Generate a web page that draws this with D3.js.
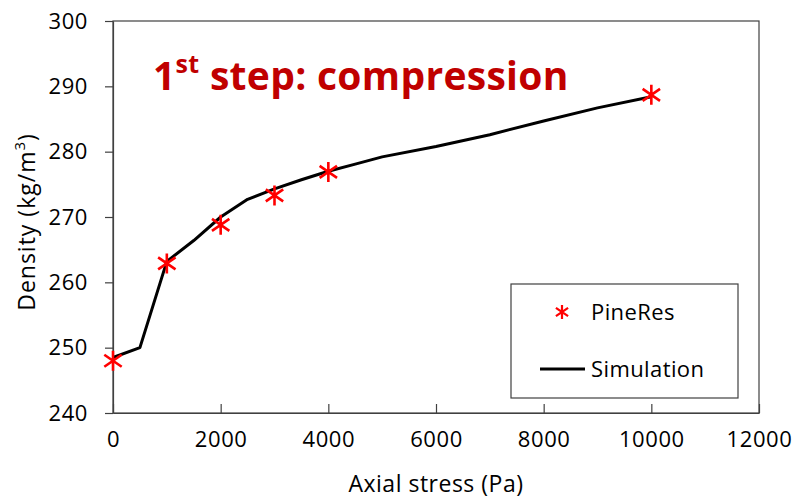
<!DOCTYPE html>
<html>
<head>
<meta charset="utf-8">
<script src="https://cdn.jsdelivr.net/npm/d3@7"></script>
<style>
  body { margin: 0; background: #fff; }
  svg { display: block; font-family: "Open Sans", sans-serif; }
</style>
</head>
<body>
<div id="chart"></div>
<script>
// Measured points (PineRes)
const expStress = [0, 1000, 2000, 3000, 4000, 10000];
const expDensity = [248.0, 262.9, 268.8, 273.3, 276.9, 288.7];

// Simulation curve
const simStress = [0, 500, 1000, 1500, 2000, 2500, 3000, 3500, 4000, 4500, 5000, 6000, 7000, 8000, 9000, 10000];
const simDensity = [248.5, 250.0, 263.2, 266.4, 270.0, 272.7, 274.3, 275.7, 277.0, 278.1, 279.2, 280.8, 282.6, 284.7, 286.7, 288.4];

const xTicks = [0, 2000, 4000, 6000, 8000, 10000, 12000];
const yTicks = [240, 250, 260, 270, 280, 290, 300];

const W = 798, H = 500;
const margin = { top: 21, right: 39, bottom: 87, left: 113 };

const svg = d3.select("#chart").append("svg")
  .attr("width", W).attr("height", H);

const x = d3.scaleLinear().domain([0, 12000]).range([margin.left, W - margin.right]);
const y = d3.scaleLinear().domain([240, 300]).range([H - margin.bottom, margin.top]);

// plot frame
svg.append("rect")
  .attr("x", x(0)).attr("y", y(300))
  .attr("width", x(12000) - x(0)).attr("height", y(240) - y(300))
  .attr("fill", "none").attr("stroke", "#404040").attr("stroke-width", 1.2);

// x axis, ticks point up into the plot
const xAxis = svg.append("g")
  .attr("transform", `translate(0,${y(240)})`)
  .call(d3.axisBottom(x).tickValues(xTicks).tickFormat(d3.format("d"))
    .tickSizeInner(-9).tickSizeOuter(0).tickPadding(18));
xAxis.select(".domain").attr("stroke", "#404040").attr("stroke-width", 1.2);
xAxis.selectAll(".tick line").attr("stroke", "#404040").attr("stroke-width", 1.2);
xAxis.selectAll(".tick text").attr("font-size", 22).attr("fill", "#000")
  .attr("font-family", "Open Sans").attr("letter-spacing", 0.6);

// y axis, ticks point out
const yAxis = svg.append("g")
  .attr("transform", `translate(${x(0)},0)`)
  .call(d3.axisLeft(y).tickValues(yTicks).tickSizeInner(8).tickSizeOuter(0).tickPadding(17));
yAxis.select(".domain").attr("stroke", "#404040").attr("stroke-width", 1.2);
yAxis.selectAll(".tick line").attr("stroke", "#404040").attr("stroke-width", 1.2);
yAxis.selectAll(".tick text").attr("font-size", 22).attr("fill", "#000")
  .attr("font-family", "Open Sans").attr("letter-spacing", 0.6);

// axis titles
svg.append("text")
  .attr("x", 436).attr("y", 492)
  .attr("text-anchor", "middle").attr("font-size", 23).attr("letter-spacing", 0.5)
  .text("Axial stress (Pa)");

const yt = svg.append("text")
  .attr("transform", "translate(35,222) rotate(-90)")
  .attr("text-anchor", "middle").attr("font-size", 23).attr("letter-spacing", 1);
yt.append("tspan").text("Density (kg/m");
yt.append("tspan").attr("font-size", 15).attr("dy", -10).text("3");
yt.append("tspan").attr("dy", 10).text(")");

// simulation line
const line = d3.line().x((d, i) => x(simStress[i])).y(d => y(d));
svg.append("path")
  .datum(simDensity)
  .attr("d", line)
  .attr("fill", "none").attr("stroke", "#000").attr("stroke-width", 3)
  .attr("stroke-linejoin", "round");

// star marker (Excel style)
function star(g, s, w) {
  const d = `M0,${-s}L0,${s}M${-s * 0.87},${-s * 0.6}L${s * 0.87},${s * 0.6}M${-s * 0.87},${s * 0.6}L${s * 0.87},${-s * 0.6}`;
  g.append("path").attr("d", d).attr("stroke", "#ff0000").attr("stroke-width", w).attr("fill", "none");
}

expDensity.forEach((v, i) => {
  const g = svg.append("g").attr("transform", `translate(${x(expStress[i])},${y(v)})`);
  star(g, 10, 2.6);
});

// title
const title = svg.append("text")
  .attr("x", 153).attr("y", 90)
  .attr("fill", "#c00000").attr("font-weight", "bold").attr("font-size", 39)
  .attr("letter-spacing", 0.3);
title.append("tspan").text("1");
title.append("tspan").attr("font-size", 25).attr("dy", -17).text("st");
title.append("tspan").attr("dy", 17).text(" step: compression");

// legend
const lg = svg.append("g");
lg.append("rect")
  .attr("x", 511).attr("y", 284).attr("width", 227).attr("height", 114)
  .attr("fill", "#fff").attr("stroke", "#404040").attr("stroke-width", 1.2);
const lm = lg.append("g").attr("transform", "translate(562,312)");
star(lm, 7, 2.2);
lg.append("text").attr("x", 591).attr("y", 320).attr("font-size", 22).attr("letter-spacing", 0.4).text("PineRes");
lg.append("line").attr("x1", 540).attr("x2", 585).attr("y1", 369).attr("y2", 369)
  .attr("stroke", "#000").attr("stroke-width", 3);
lg.append("text").attr("x", 591).attr("y", 377).attr("font-size", 22).attr("letter-spacing", 0.4).text("Simulation");
</script>
</body>
</html>
